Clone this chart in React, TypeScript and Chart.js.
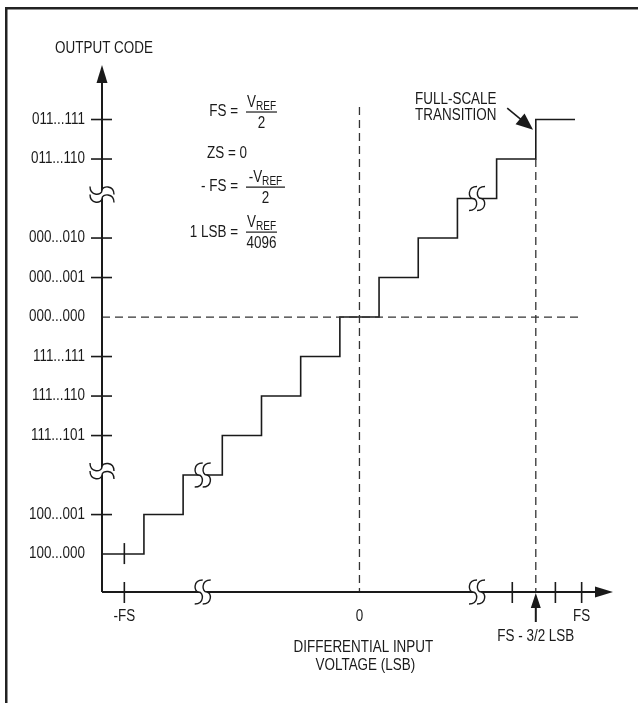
import React, { useEffect, useRef } from 'react';
import { Chart, registerables } from 'chart.js';
Chart.register(...registerables);

const FONT = '"Liberation Sans", Arial, sans-serif';
const SX = 0.84; // horizontal condensing of the text

// ---- data (codes on y, LSB on x) ----
const codeLevels = [-6, -5, -4, -3, -2, -1, 0, 1, 2, 3, 4, 5];
const transitions = [-5.5, -4.5, -3.5, -2.5, -1.5, -0.5, 0.5, 1.5, 2.5, 3.5, 4.5];
const stairEnd = 5.5;
const yTickCodes = [5, 4, 2, 1, 0, -1, -2, -3, -5, -6];
const yTickLabels = ['011...111', '011...110', '000...010', '000...001', '000...000', '111...111', '111...110', '111...101', '100...001', '100...000'];
const yTickMarked = [true, true, true, true, false, true, true, true, true, false];
const xTickValues = [-6, 3.9, 5, 5.67];
const xTickLabels = ['-FS', '', '', 'FS'];
const zeroLSB = 0;
const fsTransition = 4.5; // FS - 3/2 LSB
const xAxisBreaks = [-4, 3];
const stairBreakX = [-4, 3];
const stairBreakY = [-4, 3];
const yAxisBreaks = [3.1, -3.9];
const X_MIN = -6.57, X_MAX = 6.47, Y_MIN = -6.96, Y_MAX = 6.38;
const zeroLineEnd = 5.7;
const zeroVLineTop = 5.32;

const stairData = [
  { x: X_MIN, y: codeLevels[0] },
  ...transitions.map((t, i) => ({ x: t, y: codeLevels[i + 1] })),
  { x: stairEnd, y: codeLevels[codeLevels.length - 1] },
];

const INK = '#1a1a1a';

function sPath(ctx: CanvasRenderingContext2D, x: number, h: number, reverse: boolean) {
  if (!reverse) {
    ctx.moveTo(x + 4, -h);
    ctx.bezierCurveTo(x - 6, -h, x - 5, 0, x, 0);
    ctx.bezierCurveTo(x + 5, 0, x + 6, h, x - 4, h);
  } else {
    ctx.lineTo(x - 4, h);
    ctx.bezierCurveTo(x + 6, h, x + 5, 0, x, 0);
    ctx.bezierCurveTo(x - 5, 0, x - 6, -h, x + 4, -h);
  }
}

function drawBreak(ctx: CanvasRenderingContext2D, cx: number, cy: number, rot: number) {
  const h = 12, g = 4;
  ctx.save();
  ctx.translate(cx, cy);
  ctx.rotate(rot);
  ctx.beginPath();
  sPath(ctx, -g, h, false);
  sPath(ctx, g, h, true);
  ctx.closePath();
  ctx.fillStyle = '#fff';
  ctx.fill();
  ctx.strokeStyle = INK;
  ctx.lineWidth = 1.4;
  ctx.beginPath();
  sPath(ctx, -g, h, false);
  ctx.stroke();
  ctx.beginPath();
  sPath(ctx, g, h, false);
  ctx.stroke();
  ctx.restore();
}

function arrowHead(ctx: CanvasRenderingContext2D, tx: number, ty: number, fx: number, fy: number, len: number, hw: number) {
  const a = Math.atan2(ty - fy, tx - fx);
  const bx = tx - Math.cos(a) * len, by = ty - Math.sin(a) * len;
  const px = -Math.sin(a) * hw, py = Math.cos(a) * hw;
  ctx.beginPath();
  ctx.moveTo(tx, ty);
  ctx.lineTo(bx + px, by + py);
  ctx.lineTo(bx - px, by - py);
  ctx.closePath();
  ctx.fillStyle = INK;
  ctx.fill();
}

const diagramPlugin = {
  id: 'diagram',
  beforeDraw(chart: any) {
    const ctx = chart.ctx as CanvasRenderingContext2D;
    ctx.save();
    ctx.fillStyle = '#fff';
    ctx.fillRect(0, 0, chart.width, chart.height);
    ctx.fillStyle = '#222';
    ctx.fillRect(5, 7, chart.width - 5, 2.5);
    ctx.fillRect(5, 7, 2.5, chart.height - 7);
    ctx.restore();
  },
  afterDatasetsDraw(chart: any) {
    const ctx = chart.ctx as CanvasRenderingContext2D;
    const xs = chart.scales.x, ys = chart.scales.y;
    const X = (v: number) => xs.getPixelForValue(v);
    const Y = (v: number) => ys.getPixelForValue(v);
    const ax = X(X_MIN), ay = Y(Y_MIN);
    ctx.save();
    const text = (s: string, x: number, y: number, align: CanvasTextAlign = 'center', size = 16, base: CanvasTextBaseline = 'middle') => {
      ctx.save();
      ctx.font = `${size}px ${FONT}`;
      ctx.textAlign = align;
      ctx.textBaseline = base;
      ctx.fillStyle = INK;
      ctx.translate(x, y);
      ctx.scale(SX, 1);
      ctx.fillText(s, 0, 0);
      ctx.restore();
    };
    const width = (s: string, size: number) => {
      ctx.font = `${size}px ${FONT}`;
      return ctx.measureText(s).width * SX;
    };
    const line = (x1: number, y1: number, x2: number, y2: number, w = 1.6) => {
      ctx.beginPath();
      ctx.moveTo(x1, y1);
      ctx.lineTo(x2, y2);
      ctx.lineWidth = w;
      ctx.strokeStyle = INK;
      ctx.stroke();
    };

    // axis arrow heads
    arrowHead(ctx, ax, Y(Y_MAX), ax, Y(Y_MAX) + 10, 18, 5.5);
    arrowHead(ctx, X(X_MAX), ay, X(X_MAX) - 10, ay, 18, 5.5);

    // y ticks + labels
    yTickCodes.forEach((c, i) => {
      const py = Y(c);
      if (yTickMarked[i]) line(ax - 11, py, ax + 10, py);
      text(yTickLabels[i], ax - 17, py, 'right');
    });
    // x ticks + labels
    xTickValues.forEach((v, i) => {
      const px = X(v);
      line(px, ay - 10, px, ay + 11);
      if (xTickLabels[i]) text(xTickLabels[i], px, ay + 25);
    });
    text('0', X(zeroLSB), ay + 25);
    // tick on first step at -FS
    line(X(xTickValues[0]), Y(codeLevels[0]) - 11, X(xTickValues[0]), Y(codeLevels[0]) + 10);

    // FS - 3/2 LSB arrow
    const fx = X(fsTransition);
    line(fx, ay + 30, fx, ay + 10, 2);
    arrowHead(ctx, fx, ay + 1, fx, ay + 10, 15, 5);
    text('FS - 3/2 LSB', fx, ay + 45);

    // axis titles
    text('OUTPUT CODE', ax + 2, Y(Y_MAX) - 16);
    text('DIFFERENTIAL INPUT', X(0.1), ay + 56);
    text('VOLTAGE (LSB)', X(0.15), ay + 74);

    // breaks
    xAxisBreaks.forEach((v) => drawBreak(ctx, X(v), ay, 0));
    stairBreakX.forEach((v, i) => drawBreak(ctx, X(v), Y(stairBreakY[i]), 0));
    yAxisBreaks.forEach((v) => drawBreak(ctx, ax, Y(v), -Math.PI / 2));

    // formulas
    const vref = (prefix: string, cx: number, base: number) => {
      const w1 = width(prefix + 'V', 16);
      const w2 = width('REF', 12);
      const start = cx - (w1 + w2) / 2;
      text(prefix + 'V', start, base, 'left', 16, 'alphabetic');
      text('REF', start + w1, base + 3, 'left', 12, 'alphabetic');
    };
    const frac = (label: string, barCode: number, prefix: string, den: string, barW: number) => {
      const by = Y(barCode);
      const lx = X(-3.1);
      const bx = lx + 8;
      text(label, lx, by, 'right');
      line(bx, by, bx + barW, by, 1.2);
      vref(prefix, bx + barW / 2, by - 5);
      text(den, bx + barW / 2, by + 16, 'center', 16, 'alphabetic');
    };
    frac('FS =', 5.19, '', '2', 31);
    text('ZS = 0', X(-3.1) - 31, Y(4.15), 'left');
    frac('- FS =', 3.29, '-', '2', 39);
    frac('1 LSB =', 2.15, '', '4096', 31);

    // full-scale transition annotation
    text('FULL-SCALE', X(1.42), Y(5.5), 'left', 16);
    text('TRANSITION', X(1.42), Y(5.09), 'left', 16);
    const t1x = X(3.77), t1y = Y(5.29), t2x = X(4.43), t2y = Y(4.74);
    line(t1x, t1y, t2x - 8, t2y - 7, 1.6);
    arrowHead(ctx, t2x, t2y, t1x, t1y, 17, 7);
    ctx.restore();
  },
};

export default function App() {
  const ref = useRef<HTMLCanvasElement | null>(null);
  useEffect(() => {
    if (!ref.current) return;
    const dashed = { borderDash: [8, 5], borderWidth: 1.3, borderColor: '#333' };
    const chart = new Chart(ref.current, {
      type: 'scatter',
      data: {
        datasets: [
          { data: [{ x: X_MIN, y: Y_MIN }, { x: X_MIN, y: Y_MAX - 0.2 }], showLine: true, borderColor: INK, borderWidth: 2, pointRadius: 0, clip: false } as any,
          { data: [{ x: X_MIN, y: Y_MIN }, { x: X_MAX - 0.2, y: Y_MIN }], showLine: true, borderColor: INK, borderWidth: 2, pointRadius: 0, clip: false } as any,
          { data: [{ x: X_MIN, y: zeroLSB }, { x: zeroLineEnd, y: zeroLSB }], showLine: true, pointRadius: 0, clip: false, ...dashed } as any,
          { data: [{ x: zeroLSB, y: zeroVLineTop }, { x: zeroLSB, y: Y_MIN }], showLine: true, pointRadius: 0, clip: false, ...dashed } as any,
          { data: [{ x: fsTransition, y: codeLevels[10] }, { x: fsTransition, y: Y_MIN }], showLine: true, pointRadius: 0, clip: false, ...dashed } as any,
          { data: stairData, showLine: true, stepped: 'before', borderColor: INK, borderWidth: 1.6, pointRadius: 0, clip: false } as any,
        ],
      },
      options: {
        animation: false,
        responsive: false,
        events: [],
        layout: { padding: { left: 102, right: 25, top: 65, bottom: 111 } },
        plugins: { legend: { display: false }, tooltip: { enabled: false }, title: { display: false } },
        scales: {
          x: { type: 'linear', min: X_MIN, max: X_MAX, display: false },
          y: { type: 'linear', min: Y_MIN, max: Y_MAX, display: false },
        },
      },
      plugins: [diagramPlugin],
    });
    return () => chart.destroy();
  }, []);
  return (
    <div style={{ position: 'absolute', left: 0, top: 0, width: 638, height: 703 }}>
      <canvas ref={ref} width={638} height={703} />
    </div>
  );
}
